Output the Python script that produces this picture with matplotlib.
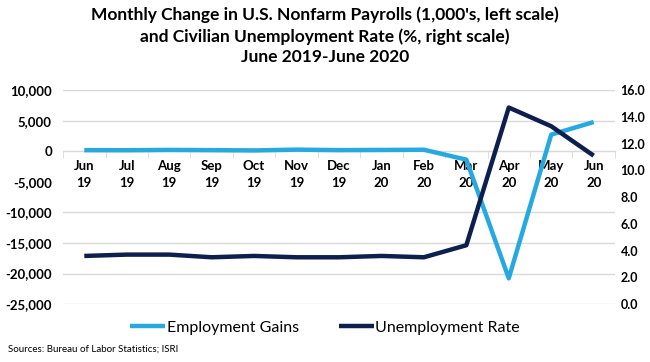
import matplotlib.pyplot as plt
from matplotlib.ticker import FuncFormatter, FixedLocator
import numpy as np

plt.rcParams['font.family'] = ['Lato', 'DejaVu Sans']

months = ['Jun\n19', 'Jul\n19', 'Aug\n19', 'Sep\n19', 'Oct\n19', 'Nov\n19', 'Dec\n19',
          'Jan\n20', 'Feb\n20', 'Mar\n20', 'Apr\n20', 'May\n20', 'Jun\n20']
payrolls = [178, 166, 219, 180, 136, 266, 184, 214, 251, -1373, -20787, 2725, 4781]
unemployment = [3.6, 3.7, 3.7, 3.5, 3.6, 3.5, 3.5, 3.6, 3.5, 4.4, 14.7, 13.3, 11.1]

light_blue = '#25A9E0'
navy = '#0C1F4E'
grid_c = '#D9D9D9'

fig = plt.figure(figsize=(6.5, 3.62), dpi=100)
ax = fig.add_axes([0.097, 0.160, 0.849, 0.591])
ax2 = ax.twinx()

x = np.arange(len(months))
l1, = ax.plot(x, payrolls, color=light_blue, lw=3.2, solid_capstyle='butt', zorder=3)
l2, = ax2.plot(x, unemployment, color=navy, lw=3.2, solid_capstyle='butt', zorder=3)

ax.set_xlim(-0.5, len(months) - 0.5)
ax.set_ylim(-25000, 10000)
yt = np.arange(-25000, 10001, 5000)
ax.set_yticks(yt)
ax.yaxis.set_major_formatter(FuncFormatter(lambda v, p: f'{int(v):,}'))
ax2.set_ylim(0, 16)
ax2.set_yticks(np.arange(0, 16.1, 2))
ax2.yaxis.set_major_formatter(FuncFormatter(lambda v, p: f'{v:.1f}'))

ax.grid(axis='y', color=grid_c, lw=1)
ax.set_axisbelow(True)
# gridline behind the month labels is hidden in the original
for v, gl in zip(yt, ax.get_ygridlines()):
    if v == -5000:
        gl.set_visible(False)

for a in (ax, ax2):
    for s in ('top', 'left', 'right'):
        a.spines[s].set_visible(False)
ax2.spines['bottom'].set_visible(False)
ax.spines['bottom'].set_position(('data', 0))
ax.spines['bottom'].set_color(grid_c)

ax.set_xticks(x)
ax.set_xticklabels(months, fontsize=9.5, fontweight='bold', linespacing=1.5)
ax.tick_params(axis='x', which='major', length=0, pad=6)
ax.xaxis.set_minor_locator(FixedLocator(np.arange(-0.5, len(months), 1)))
ax.tick_params(axis='x', which='minor', length=5, color=grid_c, direction='out')

ax.tick_params(axis='y', length=0, labelsize=9.5, pad=8)
ax2.tick_params(axis='y', length=0, labelsize=9, pad=4)
for lab in ax.get_yticklabels() + ax2.get_yticklabels():
    lab.set_fontweight('bold')

fig.text(0.5, 0.82, "Monthly Change in U.S. Nonfarm Payrolls (1,000's, left scale)\n"
         "and Civilian Unemployment Rate (%, right scale)\nJune 2019-June 2020",
         ha='center', va='bottom', fontsize=12.5, fontweight='bold', linespacing=1.35)

fig.legend([l1, l2], ['Employment Gains', 'Unemployment Rate'], loc='center',
           bbox_to_anchor=(0.5, 0.095), ncol=2, frameon=False, fontsize=11.5,
           handlelength=2.2, handletextpad=0.1, columnspacing=2.5)

fig.text(0.012, 0.035, 'Sources: Bureau of Labor Statistics; ISRI', fontsize=7,
         ha='left', va='center')

fig.savefig('out.png', dpi=100)
